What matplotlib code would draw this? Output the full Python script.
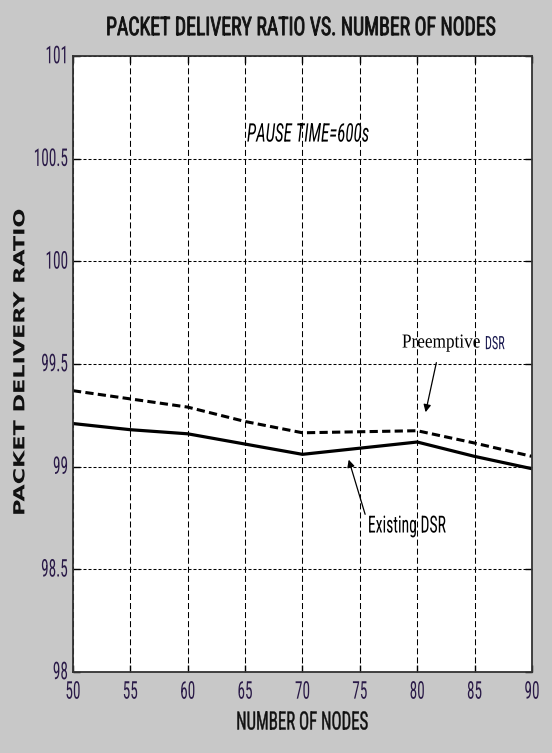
import matplotlib
matplotlib.use("Agg")
import matplotlib.pyplot as plt
from matplotlib import font_manager
from matplotlib.patheffects import AbstractPathEffect
from matplotlib.transforms import Affine2D

nodes = [50, 55, 60, 65, 70, 75, 80, 85, 90]
existing_dsr = [99.21, 99.18, 99.16, 99.11, 99.06, 99.09, 99.12, 99.05, 98.99]
preemptive_dsr = [99.37, 99.33, 99.29, 99.22, 99.165, 99.17, 99.175, 99.115, 99.05]
x_ticks = [50, 55, 60, 65, 70, 75, 80, 85, 90]
y_ticks = [98, 98.5, 99, 99.5, 100, 100.5, 101]
y_tick_labels = ["98", "98.5", "99", "99.5", "100", "100.5", "101"]

# ---- font selection (a condensed sans, like the original narrow face) ----
fonts = font_manager.fontManager.ttflist
names = {f.name for f in fonts}
cond_faces = [f for f in fonts if f.stretch in ("condensed", "semi-condensed", "extra-condensed")
              or (isinstance(f.stretch, int) and f.stretch < 500)]
narrow_family = None
narrow_stretch = "normal"
for cand in ["Liberation Sans Narrow", "Roboto Condensed", "Open Sans Condensed",
             "DejaVu Sans Condensed"]:
    if cand in names:
        narrow_family = cand
        break
if narrow_family is None:
    for pref in ["Roboto", "Open Sans", "DejaVu Sans", "Noto Sans", "Inter", "Lato"]:
        if [f for f in cond_faces if f.name == pref]:
            narrow_family = pref
            narrow_stretch = "condensed"
            break
if narrow_family is None:
    narrow_family = "Liberation Sans"
NF = dict(fontfamily=narrow_family, fontstretch=narrow_stretch)


class Stretch(AbstractPathEffect):
    """Scale a drawn text path about its own centre (mimics the tall, narrow glyphs)."""
    def __init__(self, sx=1.0, sy=1.0, stroke=0.0):
        super().__init__()
        self.sx, self.sy, self.stroke = sx, sy, stroke

    def draw_path(self, renderer, gc, tpath, affine, rgbFace=None):
        ext = tpath.get_extents(affine)
        cx = 0.5 * (ext.x0 + ext.x1)
        cy = 0.5 * (ext.y0 + ext.y1)
        t = affine + Affine2D().translate(-cx, -cy).scale(self.sx, self.sy).translate(cx, cy)
        if self.stroke > 0 and rgbFace is not None:
            gc0 = renderer.new_gc()
            gc0.copy_properties(gc)
            gc0.set_linewidth(self.stroke)
            gc0.set_foreground(rgbFace)
            renderer.draw_path(gc0, tpath, t, rgbFace)
            gc0.restore()
        else:
            renderer.draw_path(gc, tpath, t, rgbFace)


fig = plt.figure(figsize=(5.52, 7.53), dpi=100)
fig.patch.set_facecolor("#c8c8c8")
ax = fig.add_axes([0.1322, 0.1076, 0.8315, 0.818])
ax.set_facecolor("white")

ax.plot(nodes, existing_dsr, color="black", lw=2.3, solid_joinstyle="round")
ax.plot(nodes, preemptive_dsr, color="black", lw=2.2, ls=(0, (2.7, 1.4)))

ax.set_xlim(50, 90)
ax.set_ylim(98, 101)
ax.set_xticks(x_ticks)
ax.set_yticks(y_ticks)
ax.set_yticklabels(y_tick_labels)
ax.tick_params(direction="in", top=True, right=True, length=5, width=1,
               labelsize=11, labelcolor="#2a1a48")
ax.tick_params(axis="x", pad=14)
ax.tick_params(axis="y", pad=3.6)
for lab in ax.get_xticklabels():
    lab.set_fontfamily(narrow_family)
    lab.set_fontstretch(narrow_stretch)
    lab.set_verticalalignment("center")
    lab.set_path_effects([Stretch(1.0, 1.6)])
for lab in ax.get_yticklabels():
    lab.set_fontfamily(narrow_family)
    lab.set_fontstretch(narrow_stretch)
    lab.set_verticalalignment("center")
    lab.set_path_effects([Stretch(1.0, 1.6)])

ax.xaxis.grid(True, ls=(0, (5.8, 2.9)), color="black", lw=0.75)
ax.yaxis.grid(True, ls=(0, (2.9, 1.9)), color="black", lw=0.75)
for s in ax.spines.values():
    s.set_linewidth(1.3)
    s.set_color("#333333")

fig.text(0.545, 1 - 27.5 / 753, "PACKET DELIVERY RATIO VS. NUMBER OF NODES", ha="center",
         va="center", fontsize=14.2, color="#111111",
         path_effects=[Stretch(1.0, 1.3, stroke=0.6)], **NF)
fig.text(0.5465, 1 - 722 / 753, "NUMBER OF NODES", ha="center", va="center",
         fontsize=12.1, color="#111111", path_effects=[Stretch(1.0, 1.5, stroke=0.3)], **NF)
fig.text(0.036, 1 - 362.5 / 753, "PACKET DELIVERY RATIO", rotation=90, ha="center",
         va="center", fontsize=11, fontweight="bold", fontfamily="DejaVu Sans",
         color="#111111", path_effects=[Stretch(1.0, 1.46)])

ax.text(65.16, 100.62, "PAUSE TIME=600s", fontsize=12.3, fontstyle="italic",
        ha="left", va="center", path_effects=[Stretch(1.0, 1.5)], **NF)

# Preemptive annotation
ax.annotate("", xy=(80.68, 99.252), xytext=(81.72, 99.52),
            arrowprops=dict(arrowstyle="-|>", color="black", lw=0.9, mutation_scale=11))
ax.text(78.67, 99.583, "Preemptive", fontsize=12.4, fontfamily="Liberation Serif",
        ha="left", va="baseline", path_effects=[Stretch(1.0, 1.15)])
ax.text(85.9, 99.60, "DSR", fontsize=8.8, ha="left", va="center",
        color="#1a1a50", path_effects=[Stretch(1.0, 1.5)], **NF)

# Existing annotation
ax.annotate("", xy=(73.96, 99.047), xytext=(75.53, 98.755),
            arrowprops=dict(arrowstyle="-|>", color="black", lw=0.9, mutation_scale=11))
ax.text(75.7, 98.711, "Existing DSR", fontsize=11.3, ha="left", va="center",
        path_effects=[Stretch(1.0, 1.5)], **NF)

fig.savefig("out.png", dpi=100, facecolor=fig.get_facecolor())
